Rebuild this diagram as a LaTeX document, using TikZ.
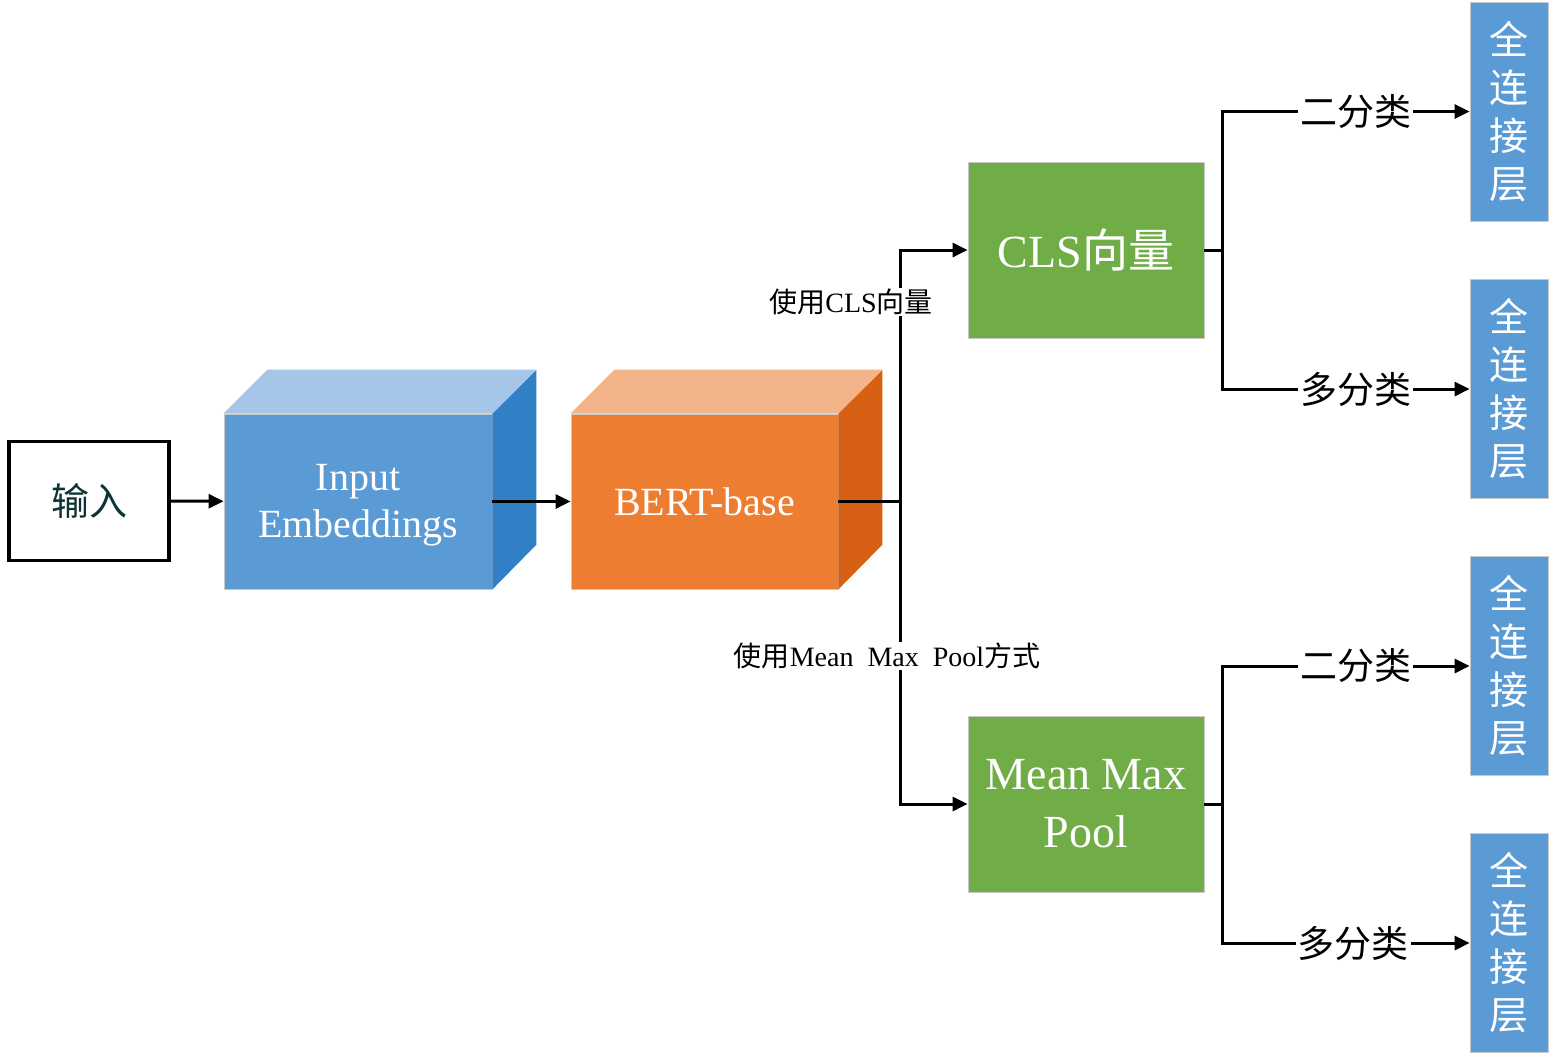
\documentclass[tikz,border=0pt]{standalone}
\usepackage{fontspec}
\setmainfont{Liberation Serif}
\newfontfamily\cjk{Noto Sans CJK SC}
\usetikzlibrary{arrows.meta}
\definecolor{fblue}{RGB}{91,155,213}
\definecolor{tblue}{RGB}{165,198,232}
\definecolor{sblue}{RGB}{49,128,198}
\definecolor{forange}{RGB}{237,125,49}
\definecolor{torange}{RGB}{244,180,138}
\definecolor{sorange}{RGB}{214,96,20}
\definecolor{fgreen}{RGB}{112,173,71}
\definecolor{edgegray}{RGB}{200,200,200}
\definecolor{intext}{RGB}{12,52,52}
\tikzset{
  arr/.style={line width=3pt,-{Triangle[length=15pt,width=14pt]}},
  conn/.style={line width=3pt},
  face/.style={draw=edgegray,line width=0.8pt},
  cubefront/.style={face,minimum width=268pt,minimum height=175pt,inner sep=0pt,text=white,align=center},
  greenbox/.style={draw=edgegray,line width=0.8pt,fill=fgreen,minimum width=236pt,minimum height=176pt,inner sep=0pt,text=white,align=center},
  fcbox/.style={draw=edgegray,line width=0.8pt,fill=fblue,minimum width=78pt,minimum height=219pt,inner sep=0pt,text=white,align=center,font=\cjk\fontsize{39}{48}\selectfont},
  lab/.style={fill=white,inner sep=2pt,text=black},
  biglab/.style={lab,font=\cjk\fontsize{37}{40}\selectfont},
  smalllab/.style={lab,inner sep=1pt,font=\fontsize{28}{30}\selectfont}
}
\begin{document}
\begin{tikzpicture}[x=1pt,y=-1pt]
\useasboundingbox (0,0) rectangle (1555,1061);
% input
\node[draw,line width=3.5pt,minimum width=160pt,minimum height=119pt,inner sep=0pt,text=intext,font=\cjk\fontsize{38}{40}\selectfont] (in) at (89,501) {输入};
% embeddings cube
\node[cubefront,fill=fblue] (emb) at (358,501.5) {};
\fill[tblue] (emb.north west) -- ++(44,-44) -- ++(268,0) -- (emb.north east) -- cycle;
\fill[sblue] (emb.north east) -- ++(44,-44) -- ++(0,175) -- (emb.south east) -- cycle;
\node[text=white,align=center,inner sep=0pt,font=\fontsize{40}{47}\selectfont] (embtxt) at ([yshift=-4pt]emb.center) {Input\\Embeddings};
% bert cube
\node[cubefront,fill=forange,minimum width=267pt,font=\fontsize{40}{47}\selectfont] (bert) at (704.5,501.5) {BERT-base};
\fill[torange] (bert.north west) -- ++(44,-44) -- ++(267,0) -- (bert.north east) -- cycle;
\fill[sorange] (bert.north east) -- ++(44,-44) -- ++(0,175) -- (bert.south east) -- cycle;
% green boxes
\node[greenbox,font=\fontsize{46}{58}\selectfont] (cls) at (1086,250) {CLS{\cjk 向量}};
\node[greenbox,font=\fontsize{46}{58}\selectfont] (mmp) at (1086,804) {Mean Max\\Pool};
% fc boxes
\node[fcbox] (fc1) at (1509,111.5) {全\\连\\接\\层};
\node[fcbox] (fc2) at (1509,389) {全\\连\\接\\层};
\node[fcbox] (fc3) at (1509,666) {全\\连\\接\\层};
\node[fcbox] (fc4) at (1509,943) {全\\连\\接\\层};
% connectors
\coordinate (j1) at (900,501.5);
\coordinate (j2) at (1222,250);
\coordinate (j3) at (1222,804);
\draw[arr] (in) -- (emb);
\draw[arr] (emb.east) -- (bert.west);
\draw[conn] (bert.east) -- (j1);
\draw[arr] (j1) |- (cls);
\draw[arr] (j1) |- (mmp);
\draw[conn] (cls.east) -- (j2);
\draw[conn] (mmp.east) -- (j3);
\draw[arr] (j2) |- node[biglab,pos=0.77] (l1) {二分类} (fc1);
\draw[arr] (j2) |- node[biglab,pos=0.77] (l2) {多分类} (fc2);
\draw[arr] (j3) |- node[biglab,pos=0.77] (l3) {二分类} (fc3);
\draw[arr] (j3) |- node[biglab,pos=0.765] (l4) {多分类} (fc4);
% branch labels
\node[smalllab] (lcls) at (851,302) {{\cjk 使用}CLS{\cjk 向量}};
\node[smalllab] (lmmp) at (887,656) {{\cjk 使用}Mean\ \ Max\ \ Pool{\cjk 方式}};
\end{tikzpicture}
\end{document}
